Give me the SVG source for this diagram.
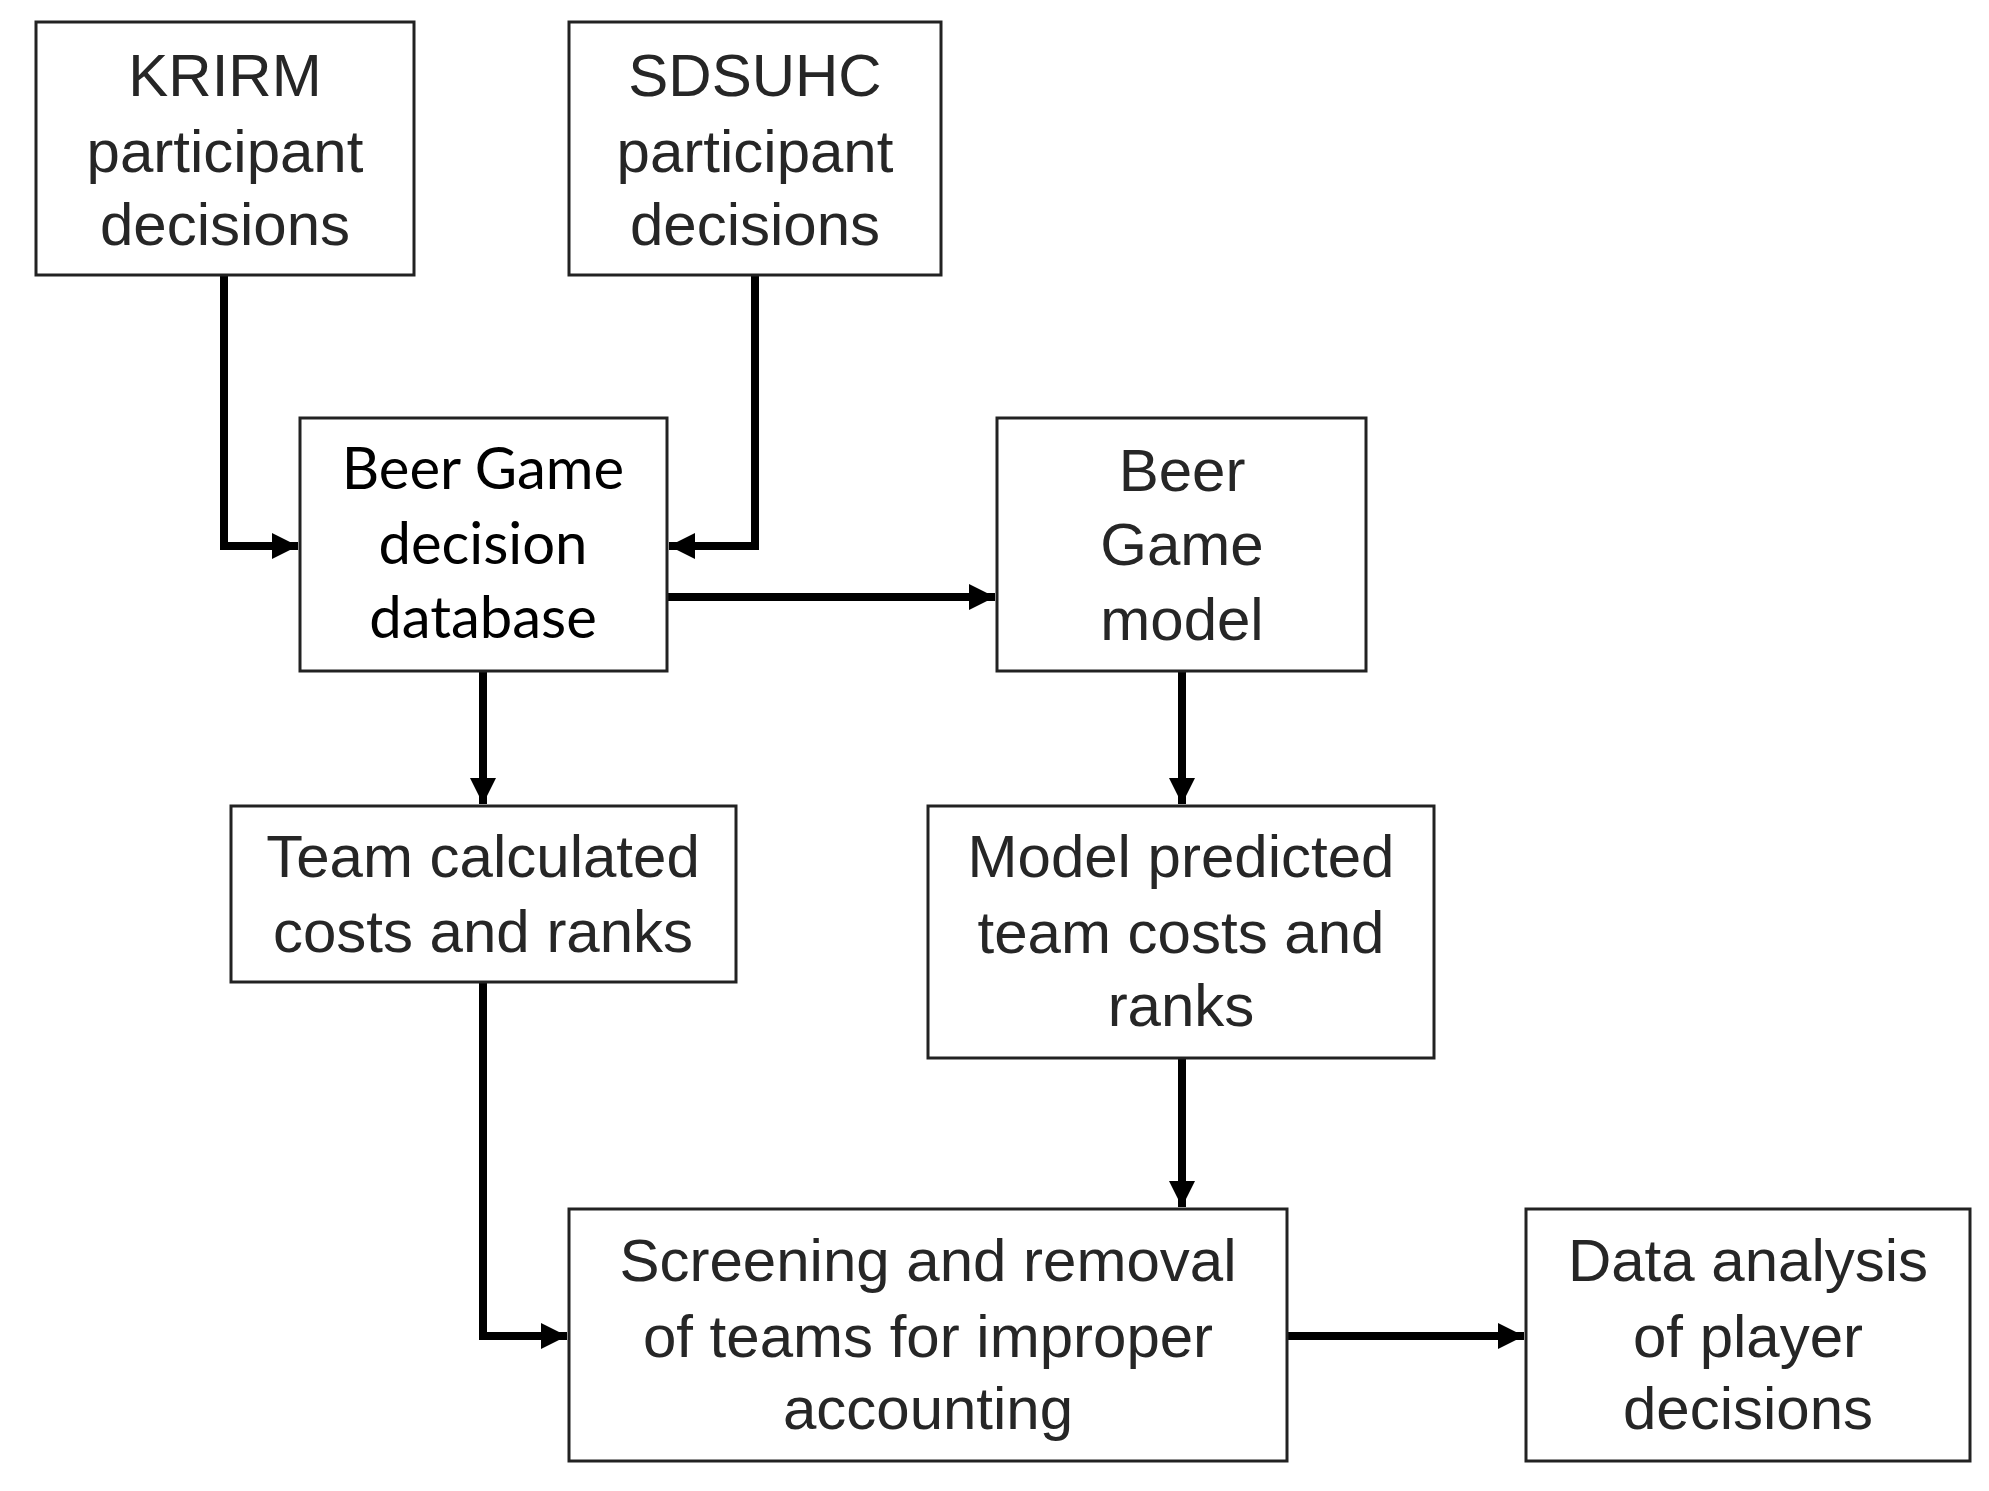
<svg xmlns="http://www.w3.org/2000/svg" width="1989" height="1491" viewBox="0 0 1989 1491">
<style>
.b{fill:#fff;stroke:#222;stroke-width:3}
.t{font-family:"Liberation Sans",Arial,sans-serif;font-size:60px;fill:#262626;text-anchor:middle}
.c{font-family:Lato,"Open Sans",sans-serif;font-size:58px;fill:#000;text-anchor:middle}
.l{fill:none;stroke:#000;stroke-width:8;marker-end:url(#a)}
</style>
<defs><marker id="a" markerUnits="userSpaceOnUse" markerWidth="30" markerHeight="30" viewBox="0 0 30 30" refX="28" refY="15" orient="auto"><path d="M2,2 L28,15 L2,28 Z" fill="#000"/></marker></defs>
<rect width="1989" height="1491" fill="#fff"/>
<g id="connectors">
<path class="l" d="M224,275 V546 H298"/>
<path class="l" d="M755,275 V546 H669"/>
<path class="l" d="M667,597 H995"/>
<path class="l" d="M483,671 V804"/>
<path class="l" d="M1182,671 V804"/>
<path class="l" d="M483,982 V1336 H567"/>
<path class="l" d="M1182,1058 V1207"/>
<path class="l" d="M1287,1336 H1524"/>
</g>
<g id="krirm"><rect class="b" x="36" y="22" width="378" height="253"/><text class="t" x="225" y="96">KRIRM</text><text class="t" x="225" y="172">participant</text><text class="t" x="225" y="245">decisions</text></g>
<g id="sdsuhc"><rect class="b" x="569" y="22" width="372" height="253"/><text class="t" x="755" y="96">SDSUHC</text><text class="t" x="755" y="172">participant</text><text class="t" x="755" y="245">decisions</text></g>
<g id="db"><rect class="b" x="300" y="418" width="367" height="253"/><text class="c" x="483" y="489">Beer Game</text><text class="c" x="483" y="564">decision</text><text class="c" x="483" y="638">database</text></g>
<g id="model"><rect class="b" x="997" y="418" width="369" height="253"/><text class="t" x="1182" y="491">Beer</text><text class="t" x="1182" y="565">Game</text><text class="t" x="1182" y="640">model</text></g>
<g id="team"><rect class="b" x="231" y="806" width="505" height="176"/><text class="t" x="483" y="877">Team calculated</text><text class="t" x="483" y="952">costs and ranks</text></g>
<g id="predicted"><rect class="b" x="928" y="806" width="506" height="252"/><text class="t" x="1181" y="877">Model predicted</text><text class="t" x="1181" y="953">team costs and</text><text class="t" x="1181" y="1026">ranks</text></g>
<g id="screening"><rect class="b" x="569" y="1209" width="718" height="252"/><text class="t" x="928" y="1281">Screening and removal</text><text class="t" x="928" y="1357">of teams for improper</text><text class="t" x="928" y="1429">accounting</text></g>
<g id="analysis"><rect class="b" x="1526" y="1209" width="444" height="252"/><text class="t" x="1748" y="1281">Data analysis</text><text class="t" x="1748" y="1357">of player</text><text class="t" x="1748" y="1429">decisions</text></g>
</svg>
